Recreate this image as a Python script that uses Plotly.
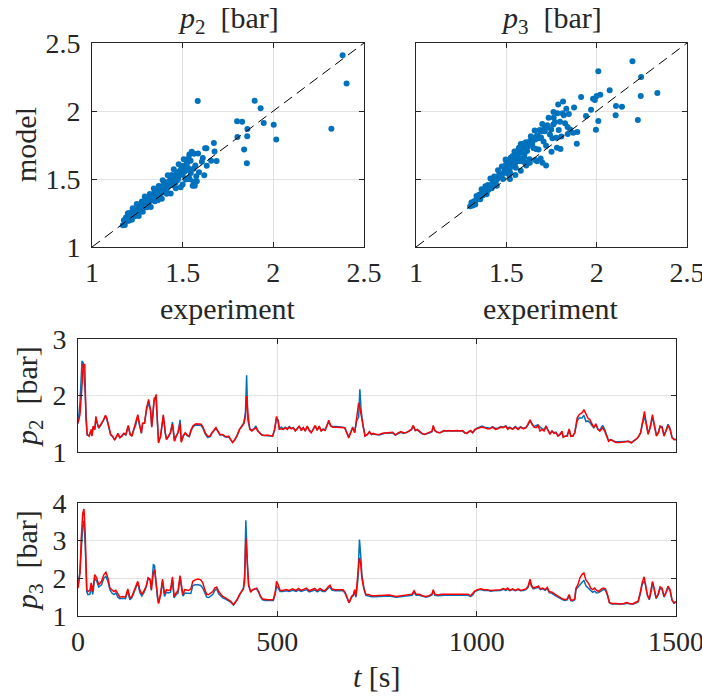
import plotly.graph_objects as go

# ---------------- data ----------------
# scatter: experiment (x) vs model (y), p2
p2_sc_exp = [1.170, 1.176, 1.181, 1.187, 1.192, 1.198, 1.203, 1.209, 1.214, 1.220,
             1.225, 1.231, 1.236, 1.242, 1.247, 1.253, 1.258, 1.264, 1.269, 1.275,
             1.280, 1.286, 1.291, 1.297, 1.302, 1.308, 1.313, 1.319, 1.324, 1.330,
             1.335, 1.341, 1.346, 1.352, 1.357, 1.363, 1.368, 1.374, 1.379, 1.385,
             1.390, 1.396, 1.401, 1.407, 1.412, 1.418, 1.423, 1.429, 1.434, 1.440,
             1.445, 1.451, 1.456, 1.462, 1.467, 1.473, 1.478, 1.484, 1.489, 1.495,
             1.500, 1.506, 1.511, 1.517, 1.522, 1.528, 1.533, 1.539, 1.544, 1.550,
             1.215, 1.245, 1.262, 1.283, 1.300, 1.318, 1.335, 1.355, 1.372, 1.390,
             1.405, 1.420, 1.438, 1.455, 1.470, 1.485, 1.500, 1.515, 1.295, 1.345,
             1.395, 1.445, 1.490, 1.360, 1.410, 1.460,
             1.225, 1.235, 1.250, 1.265, 1.270, 1.285, 1.290, 1.310, 1.315, 1.325,
             1.340, 1.345, 1.360, 1.365, 1.380, 1.385, 1.400, 1.410, 1.415, 1.430,
             1.435, 1.450, 1.460, 1.475, 1.480, 1.495, 1.505, 1.510, 1.525, 1.530,
             1.555, 1.560, 1.575, 1.590, 1.570, 1.520, 1.500, 1.545, 1.560, 1.535,
             1.537, 1.563, 1.585, 1.611, 1.606, 1.633, 1.619, 1.567, 1.578, 1.624,
             1.631, 1.672, 1.676, 1.687, 1.657, 1.583, 1.800, 1.828, 1.857, 1.802,
             1.856, 1.839, 1.854, 1.897, 1.930, 1.947, 2.002, 2.016, 2.320, 2.382, 2.404]
p2_sc_mod = [1.160, 1.196, 1.161, 1.217, 1.192, 1.248, 1.193, 1.219, 1.254, 1.200,
             1.285, 1.251, 1.226, 1.272, 1.317, 1.253, 1.228, 1.304, 1.279, 1.335,
             1.260, 1.306, 1.371, 1.327, 1.292, 1.358, 1.313, 1.389, 1.294, 1.370,
             1.355, 1.431, 1.336, 1.412, 1.387, 1.343, 1.448, 1.384, 1.429, 1.355,
             1.490, 1.436, 1.401, 1.477, 1.392, 1.528, 1.453, 1.489, 1.394, 1.530,
             1.455, 1.571, 1.506, 1.432, 1.547, 1.493, 1.608, 1.544, 1.439, 1.595,
             1.530, 1.646, 1.581, 1.497, 1.632, 1.568, 1.653, 1.499, 1.634, 1.700,
             1.230, 1.270, 1.290, 1.315, 1.330, 1.350, 1.370, 1.390, 1.410, 1.430,
             1.450, 1.470, 1.490, 1.510, 1.520, 1.560, 1.580, 1.600, 1.345, 1.400,
             1.455, 1.500, 1.570, 1.360, 1.420, 1.470,
             1.240, 1.245, 1.260, 1.270, 1.300, 1.290, 1.320, 1.330, 1.360, 1.345,
             1.360, 1.380, 1.400, 1.385, 1.410, 1.440, 1.420, 1.465, 1.440, 1.460,
             1.500, 1.480, 1.520, 1.510, 1.550, 1.540, 1.580, 1.555, 1.620, 1.580,
             1.450, 1.480, 1.520, 1.550, 1.600, 1.500, 1.460, 1.545, 1.575, 1.510,
             1.680, 1.685, 1.687, 1.655, 1.626, 1.598, 1.527, 1.451, 1.483, 1.727,
             1.727, 1.764, 1.702, 1.633, 1.635, 2.074, 1.924, 1.921, 1.867, 1.808,
             1.815, 1.717, 1.616, 2.076, 2.020, 1.912, 1.899, 1.791, 1.870, 2.410, 2.203]

# scatter: experiment (x) vs model (y), p3
p3_sc_exp = [1.300, 1.307, 1.314, 1.321, 1.328, 1.335, 1.342, 1.349, 1.356, 1.363,
             1.370, 1.377, 1.384, 1.391, 1.398, 1.405, 1.412, 1.419, 1.426, 1.433,
             1.440, 1.447, 1.454, 1.461, 1.468, 1.475, 1.482, 1.489, 1.496, 1.503,
             1.510, 1.517, 1.524, 1.531, 1.538, 1.545, 1.552, 1.559, 1.566, 1.573,
             1.580, 1.587, 1.594, 1.601, 1.608, 1.615, 1.622, 1.629, 1.636, 1.643,
             1.650, 1.657, 1.664, 1.671, 1.678, 1.685, 1.692, 1.699, 1.706, 1.713,
             1.720, 1.727, 1.734, 1.741, 1.748, 1.755, 1.762, 1.769, 1.776, 1.783,
             1.790, 1.797, 1.804, 1.811, 1.818, 1.825, 1.832, 1.839, 1.846, 1.853,
             1.470, 1.490, 1.500, 1.510, 1.520, 1.530, 1.540, 1.550, 1.560, 1.570,
             1.580, 1.590, 1.600, 1.620, 1.640, 1.660, 1.680, 1.520, 1.540, 1.560,
             1.580, 1.600, 1.450, 1.430, 1.410, 1.390, 1.370, 1.350, 1.330, 1.550,
             1.570, 1.500,
             1.350, 1.360, 1.380, 1.400, 1.420, 1.440, 1.460, 1.480, 1.495, 1.505,
             1.515, 1.525, 1.535, 1.545, 1.555, 1.565, 1.575, 1.585, 1.595, 1.610,
             1.630, 1.650, 1.670, 1.690, 1.710, 1.730, 1.760, 1.520, 1.550, 1.600,
             1.670, 1.700, 1.720, 1.660, 1.630, 1.690, 1.750, 1.780, 1.800, 1.840,
             1.870, 1.580, 1.550, 1.520, 1.610,
             2.198, 2.009, 2.246, 2.336, 2.244, 2.072, 2.107, 2.140, 2.105, 2.228,
             2.009, 1.996, 2.020, 2.000, 1.980, 1.990, 1.969, 1.941, 1.914, 1.875,
             1.890, 1.893, 1.814, 1.787, 1.761]
p3_sc_mod = [1.300, 1.328, 1.306, 1.337, 1.312, 1.375, 1.353, 1.385, 1.351, 1.424,
             1.402, 1.388, 1.447, 1.388, 1.455, 1.442, 1.503, 1.432, 1.486, 1.518,
             1.474, 1.450, 1.565, 1.525, 1.516, 1.592, 1.500, 1.588, 1.643, 1.545,
             1.603, 1.531, 1.657, 1.651, 1.607, 1.703, 1.583, 1.655, 1.703, 1.632,
             1.758, 1.630, 1.714, 1.624, 1.770, 1.705, 1.761, 1.646, 1.815, 1.761,
             1.728, 1.857, 1.720, 1.814, 1.716, 1.861, 1.805, 1.904, 1.776, 1.852,
             1.744, 1.895, 1.951, 1.828, 1.864, 1.800, 1.951, 1.917, 1.803, 1.984,
             1.860, 1.921, 1.812, 1.983, 1.969, 1.910, 2.016, 1.882, 1.978, 1.864,
             1.530, 1.560, 1.580, 1.600, 1.620, 1.630, 1.640, 1.660, 1.680, 1.690,
             1.700, 1.720, 1.730, 1.740, 1.770, 1.790, 1.800, 1.580, 1.600, 1.630,
             1.650, 1.680, 1.500, 1.470, 1.450, 1.410, 1.380, 1.360, 1.340, 1.700,
             1.730, 1.630,
             1.370, 1.390, 1.395, 1.420, 1.460, 1.480, 1.530, 1.540, 1.600, 1.620,
             1.600, 1.640, 1.670, 1.660, 1.690, 1.710, 1.700, 1.730, 1.760, 1.750,
             1.780, 1.800, 1.820, 1.850, 1.870, 1.880, 1.900, 1.550, 1.620, 1.660,
             1.630, 1.620, 1.600, 1.640, 1.620, 1.650, 1.700, 1.730, 1.720, 1.830,
             1.840, 1.560, 1.530, 1.500, 1.600,
             2.365, 2.292, 2.250, 2.132, 2.110, 2.152, 2.037, 2.032, 1.968, 1.934,
             1.926, 1.863, 2.120, 2.110, 2.090, 2.080, 2.010, 1.963, 2.103, 2.025,
             1.760, 1.846, 2.069, 2.047, 1.993]

diag = [1.0, 2.5]

# time series p2
t2 = [0, 5, 10, 13, 17, 20, 23, 28, 33, 35,
      38, 42, 45, 48, 52, 58, 64, 69, 72, 77,
      82, 87, 92, 97, 100, 105, 110, 115, 120, 126,
      131, 135, 141, 145, 150, 154, 159, 162, 167, 172,
      177, 182, 185, 191, 196, 199, 202, 207, 214, 219,
      222, 227, 232, 237, 242, 246, 251, 256, 259, 264,
      269, 274, 279, 284, 289, 296, 303, 309, 314, 319,
      325, 331, 336, 341, 346, 351, 356, 363, 368, 373,
      378, 383, 388, 393, 398, 405, 411, 416, 420, 423,
      426, 431, 436, 441, 446, 451, 456, 461, 468, 475,
      482, 488, 493, 498, 502, 505, 510, 515, 520, 525,
      530, 535, 540, 545, 550, 555, 560, 565, 570, 575,
      580, 585, 590, 595, 600, 605, 610, 615, 620, 625,
      629, 634, 639, 647, 655, 664, 669, 674, 679, 684,
      689, 694, 699, 704, 707, 710, 715, 720, 726, 731,
      736, 741, 747, 756, 764, 772, 781, 789, 796, 803,
      810, 816, 823, 829, 836, 841, 846, 851, 856, 863,
      869, 876, 883, 888, 891, 895, 901, 908, 913, 918,
      925, 931, 938, 945, 951, 958, 965, 970, 975, 980,
      985, 990, 995, 1000, 1007, 1013, 1020, 1027, 1033, 1040,
      1047, 1053, 1060, 1067, 1073, 1078, 1083, 1090, 1097, 1104,
      1110, 1117, 1124, 1129, 1134, 1139, 1144, 1149, 1154, 1159,
      1164, 1169, 1174, 1179, 1184, 1189, 1194, 1199, 1204, 1209,
      1214, 1217, 1222, 1227, 1232, 1236, 1241, 1246, 1249, 1252,
      1257, 1264, 1269, 1274, 1279, 1284, 1289, 1294, 1299, 1304,
      1309, 1316, 1321, 1326, 1331, 1336, 1343, 1349, 1358, 1366,
      1374, 1381, 1388, 1393, 1399, 1404, 1411, 1416, 1421, 1425,
      1430, 1435, 1441, 1446, 1451, 1456, 1460, 1465, 1470, 1475,
      1480, 1485, 1490, 1495, 1500]
p2_mod = [1.51, 1.66, 2.17, 2.55, 2.55, 1.57, 1.31, 1.28, 1.40, 1.28,
          1.46, 1.40, 1.63, 1.51, 1.43, 1.49, 1.57, 1.65, 1.60, 1.46,
          1.31, 1.28, 1.21, 1.28, 1.33, 1.25, 1.28, 1.33, 1.31, 1.47,
          1.31, 1.28, 1.43, 1.49, 1.66, 1.49, 1.34, 1.51, 1.51, 1.78,
          1.93, 1.75, 1.44, 1.90, 2.02, 1.57, 1.16, 1.28, 1.66, 1.34,
          1.22, 1.28, 1.34, 1.49, 1.19, 1.28, 1.34, 1.51, 1.17, 1.28,
          1.34, 1.30, 1.28, 1.40, 1.47, 1.50, 1.50, 1.49, 1.43, 1.34,
          1.28, 1.28, 1.34, 1.38, 1.43, 1.37, 1.31, 1.31, 1.28, 1.27,
          1.28, 1.22, 1.17, 1.22, 1.28, 1.40, 1.46, 1.50, 1.63, 1.99,
          1.69, 1.40, 1.37, 1.40, 1.43, 1.37, 1.34, 1.30, 1.29, 1.30,
          1.29, 1.28, 1.40, 1.63, 1.54, 1.40, 1.41, 1.40, 1.43, 1.40,
          1.44, 1.41, 1.43, 1.37, 1.41, 1.46, 1.38, 1.43, 1.37, 1.46,
          1.38, 1.34, 1.40, 1.47, 1.38, 1.46, 1.37, 1.40, 1.38, 1.47,
          1.56, 1.46, 1.44, 1.44, 1.44, 1.44, 1.43, 1.34, 1.25, 1.34,
          1.43, 1.34, 1.57, 1.87, 1.78, 1.66, 1.43, 1.28, 1.31, 1.36,
          1.31, 1.33, 1.31, 1.31, 1.33, 1.34, 1.34, 1.35, 1.30, 1.34,
          1.36, 1.34, 1.34, 1.37, 1.40, 1.47, 1.38, 1.40, 1.37, 1.33,
          1.31, 1.33, 1.35, 1.37, 1.47, 1.38, 1.35, 1.34, 1.36, 1.38,
          1.37, 1.38, 1.37, 1.38, 1.38, 1.37, 1.38, 1.34, 1.33, 1.36,
          1.38, 1.34, 1.40, 1.41, 1.43, 1.44, 1.43, 1.41, 1.41, 1.44,
          1.40, 1.41, 1.44, 1.43, 1.46, 1.40, 1.43, 1.40, 1.44, 1.40,
          1.44, 1.41, 1.43, 1.49, 1.57, 1.49, 1.44, 1.43, 1.47, 1.37,
          1.40, 1.37, 1.46, 1.38, 1.31, 1.37, 1.33, 1.34, 1.28, 1.31,
          1.37, 1.26, 1.28, 1.28, 1.41, 1.28, 1.28, 1.34, 1.46, 1.60,
          1.66, 1.69, 1.75, 1.66, 1.60, 1.57, 1.49, 1.43, 1.50, 1.40,
          1.37, 1.43, 1.37, 1.28, 1.19, 1.22, 1.19, 1.17, 1.17, 1.17,
          1.18, 1.19, 1.16, 1.19, 1.22, 1.25, 1.34, 1.53, 1.72, 1.51,
          1.31, 1.43, 1.66, 1.46, 1.28, 1.34, 1.46, 1.43, 1.28, 1.37,
          1.47, 1.40, 1.25, 1.22, 1.22]
p2_exp = [1.50, 1.87, 2.61, 2.58, 2.17, 1.57, 1.30, 1.29, 1.38, 1.29,
          1.44, 1.39, 1.60, 1.52, 1.42, 1.48, 1.56, 1.63, 1.59, 1.43,
          1.30, 1.27, 1.22, 1.27, 1.32, 1.26, 1.29, 1.32, 1.30, 1.45,
          1.30, 1.29, 1.41, 1.48, 1.63, 1.48, 1.33, 1.50, 1.52, 1.75,
          1.87, 1.73, 1.45, 1.96, 1.93, 1.55, 1.18, 1.27, 1.63, 1.33,
          1.23, 1.27, 1.35, 1.53, 1.20, 1.27, 1.35, 1.57, 1.19, 1.29,
          1.33, 1.29, 1.27, 1.38, 1.45, 1.48, 1.48, 1.47, 1.41, 1.32,
          1.26, 1.27, 1.33, 1.37, 1.42, 1.36, 1.30, 1.30, 1.27, 1.26,
          1.27, 1.22, 1.17, 1.21, 1.27, 1.39, 1.45, 1.52, 1.70, 2.36,
          1.57, 1.41, 1.39, 1.41, 1.46, 1.38, 1.34, 1.30, 1.29, 1.29,
          1.28, 1.28, 1.38, 1.60, 1.56, 1.42, 1.44, 1.41, 1.44, 1.41,
          1.45, 1.42, 1.43, 1.38, 1.42, 1.45, 1.39, 1.43, 1.38, 1.45,
          1.39, 1.35, 1.40, 1.46, 1.39, 1.45, 1.38, 1.41, 1.39, 1.46,
          1.54, 1.46, 1.45, 1.45, 1.45, 1.44, 1.43, 1.35, 1.27, 1.35,
          1.44, 1.35, 1.55, 1.62, 2.11, 1.75, 1.46, 1.29, 1.31, 1.35,
          1.31, 1.32, 1.31, 1.30, 1.32, 1.34, 1.33, 1.34, 1.30, 1.33,
          1.35, 1.33, 1.34, 1.36, 1.39, 1.45, 1.38, 1.39, 1.36, 1.32,
          1.31, 1.32, 1.34, 1.36, 1.45, 1.38, 1.35, 1.34, 1.36, 1.37,
          1.37, 1.37, 1.37, 1.38, 1.37, 1.37, 1.37, 1.34, 1.33, 1.35,
          1.37, 1.34, 1.39, 1.42, 1.44, 1.46, 1.44, 1.43, 1.42, 1.45,
          1.42, 1.42, 1.45, 1.44, 1.46, 1.42, 1.44, 1.41, 1.45, 1.41,
          1.45, 1.42, 1.44, 1.48, 1.55, 1.50, 1.45, 1.47, 1.48, 1.44,
          1.42, 1.39, 1.45, 1.40, 1.33, 1.37, 1.34, 1.35, 1.29, 1.31,
          1.36, 1.27, 1.28, 1.29, 1.39, 1.29, 1.28, 1.34, 1.44, 1.55,
          1.60, 1.60, 1.65, 1.54, 1.55, 1.52, 1.47, 1.43, 1.48, 1.41,
          1.39, 1.47, 1.40, 1.30, 1.20, 1.22, 1.20, 1.18, 1.18, 1.18,
          1.18, 1.19, 1.17, 1.19, 1.22, 1.25, 1.33, 1.50, 1.62, 1.53,
          1.33, 1.42, 1.62, 1.47, 1.30, 1.35, 1.45, 1.45, 1.30, 1.38,
          1.49, 1.42, 1.27, 1.22, 1.22]

# time series p3
t3 = [0, 5, 8, 12, 15, 18, 22, 25, 30, 33,
      37, 42, 47, 52, 59, 65, 70, 75, 80, 85,
      90, 95, 100, 105, 112, 119, 125, 130, 135, 140,
      145, 150, 155, 160, 166, 171, 176, 181, 184, 189,
      192, 196, 199, 202, 207, 212, 217, 222, 227, 232,
      237, 241, 246, 251, 256, 259, 263, 268, 273, 278,
      283, 288, 294, 301, 308, 313, 318, 323, 328, 333,
      338, 343, 348, 353, 358, 363, 370, 376, 383, 390,
      395, 400, 405, 410, 415, 418, 421, 425, 428, 433,
      438, 443, 448, 453, 458, 463, 470, 477, 483, 490,
      495, 498, 502, 507, 513, 522, 530, 538, 547, 553,
      560, 566, 573, 580, 587, 594, 600, 607, 614, 620,
      627, 632, 637, 645, 655, 665, 670, 675, 680, 686,
      691, 694, 697, 702, 706, 709, 712, 717, 722, 729,
      736, 744, 756, 764, 781, 798, 814, 831, 838, 843,
      848, 856, 864, 873, 881, 888, 891, 895, 903, 911,
      920, 928, 936, 945, 953, 961, 970, 978, 985, 990,
      995, 1002, 1010, 1018, 1027, 1035, 1043, 1052, 1060, 1067,
      1073, 1078, 1083, 1090, 1097, 1104, 1110, 1117, 1124, 1129,
      1134, 1137, 1142, 1149, 1155, 1160, 1165, 1172, 1177, 1182,
      1189, 1196, 1202, 1209, 1216, 1222, 1227, 1232, 1236, 1241,
      1246, 1249, 1254, 1259, 1264, 1269, 1274, 1281, 1286, 1291,
      1296, 1301, 1306, 1313, 1318, 1323, 1328, 1333, 1339, 1349,
      1359, 1369, 1376, 1383, 1391, 1398, 1405, 1410, 1415, 1420,
      1423, 1428, 1433, 1438, 1441, 1445, 1450, 1455, 1460, 1465,
      1470, 1475, 1480, 1485, 1490, 1495, 1500]
p3_mod = [1.74, 2.14, 3.03, 3.73, 3.84, 3.20, 1.70, 1.65, 1.68, 1.88,
          1.65, 2.10, 2.01, 1.83, 1.92, 2.10, 2.16, 2.01, 1.74, 1.70,
          1.65, 1.68, 1.57, 1.50, 1.52, 1.50, 1.72, 1.48, 1.52, 1.65,
          1.77, 1.92, 1.70, 1.57, 1.68, 1.79, 2.01, 1.96, 1.70, 2.14,
          2.23, 1.88, 1.52, 1.33, 1.57, 1.98, 1.59, 1.70, 1.68, 1.70,
          2.04, 1.52, 1.61, 1.68, 2.07, 1.83, 1.57, 1.70, 1.68, 1.68,
          1.72, 1.92, 1.96, 1.98, 1.96, 1.88, 1.70, 1.57, 1.57, 1.61,
          1.65, 1.74, 1.77, 1.65, 1.57, 1.52, 1.48, 1.43, 1.39, 1.30,
          1.36, 1.45, 1.57, 1.65, 1.72, 1.92, 3.07, 2.32, 1.83, 1.63,
          1.70, 1.72, 1.74, 1.65, 1.52, 1.45, 1.43, 1.43, 1.43, 1.43,
          1.65, 1.92, 1.83, 1.68, 1.68, 1.70, 1.68, 1.72, 1.68, 1.73,
          1.68, 1.70, 1.74, 1.67, 1.70, 1.73, 1.67, 1.73, 1.68, 1.68,
          1.77, 1.82, 1.72, 1.70, 1.70, 1.70, 1.63, 1.48, 1.35, 1.52,
          1.57, 1.70, 1.52, 2.10, 2.54, 2.41, 2.01, 1.72, 1.57, 1.57,
          1.54, 1.54, 1.54, 1.55, 1.56, 1.52, 1.55, 1.57, 1.58, 1.67,
          1.58, 1.58, 1.54, 1.52, 1.54, 1.59, 1.70, 1.58, 1.56, 1.58,
          1.58, 1.58, 1.58, 1.58, 1.58, 1.58, 1.57, 1.58, 1.54, 1.59,
          1.66, 1.70, 1.72, 1.70, 1.70, 1.68, 1.69, 1.70, 1.70, 1.73,
          1.70, 1.74, 1.68, 1.72, 1.68, 1.72, 1.68, 1.70, 1.72, 1.79,
          1.98, 1.83, 1.74, 1.77, 1.79, 1.72, 1.74, 1.70, 1.76, 1.65,
          1.63, 1.58, 1.54, 1.50, 1.45, 1.43, 1.45, 1.57, 1.43, 1.42,
          1.45, 1.74, 1.83, 2.01, 2.10, 2.14, 1.96, 1.86, 1.74, 1.70,
          1.74, 1.68, 1.65, 1.72, 1.74, 1.72, 1.57, 1.36, 1.33, 1.33,
          1.32, 1.33, 1.36, 1.33, 1.32, 1.36, 1.39, 1.61, 1.88, 2.04,
          1.88, 1.57, 1.45, 1.70, 1.92, 1.74, 1.48, 1.57, 1.77, 1.74,
          1.52, 1.63, 1.79, 1.70, 1.43, 1.35, 1.39]
p3_exp = [1.79, 2.19, 2.72, 3.38, 3.53, 2.90, 1.65, 1.57, 1.58, 1.77,
          1.57, 2.01, 1.92, 1.77, 1.83, 2.01, 2.05, 1.92, 1.70, 1.61,
          1.57, 1.61, 1.50, 1.46, 1.47, 1.46, 1.66, 1.43, 1.48, 1.61,
          1.70, 1.88, 1.63, 1.53, 1.63, 1.77, 2.01, 1.98, 1.68, 2.36,
          2.34, 1.83, 1.50, 1.35, 1.55, 1.92, 1.52, 1.63, 1.61, 1.63,
          1.96, 1.48, 1.57, 1.61, 2.04, 1.80, 1.53, 1.61, 1.61, 1.62,
          1.60, 1.81, 1.83, 1.83, 1.81, 1.74, 1.61, 1.50, 1.49, 1.52,
          1.57, 1.68, 1.72, 1.59, 1.52, 1.48, 1.45, 1.41, 1.37, 1.29,
          1.35, 1.44, 1.55, 1.64, 1.75, 2.10, 3.54, 2.41, 1.80, 1.66,
          1.69, 1.71, 1.72, 1.63, 1.50, 1.43, 1.41, 1.41, 1.41, 1.41,
          1.60, 1.80, 1.74, 1.65, 1.65, 1.67, 1.65, 1.68, 1.65, 1.69,
          1.65, 1.67, 1.70, 1.64, 1.67, 1.69, 1.64, 1.69, 1.65, 1.65,
          1.73, 1.77, 1.69, 1.67, 1.67, 1.67, 1.60, 1.46, 1.35, 1.49,
          1.55, 1.66, 1.50, 1.96, 3.03, 2.63, 2.10, 1.76, 1.55, 1.53,
          1.51, 1.51, 1.51, 1.52, 1.53, 1.50, 1.52, 1.54, 1.55, 1.63,
          1.55, 1.55, 1.52, 1.50, 1.52, 1.56, 1.66, 1.55, 1.54, 1.55,
          1.55, 1.56, 1.55, 1.56, 1.55, 1.56, 1.55, 1.55, 1.52, 1.56,
          1.64, 1.68, 1.70, 1.68, 1.68, 1.66, 1.67, 1.68, 1.68, 1.71,
          1.68, 1.71, 1.67, 1.70, 1.67, 1.70, 1.67, 1.68, 1.70, 1.76,
          1.93, 1.80, 1.72, 1.74, 1.76, 1.70, 1.72, 1.68, 1.73, 1.62,
          1.60, 1.55, 1.51, 1.47, 1.43, 1.41, 1.43, 1.54, 1.41, 1.40,
          1.43, 1.70, 1.76, 1.83, 1.89, 1.95, 1.80, 1.72, 1.66, 1.63,
          1.66, 1.61, 1.62, 1.66, 1.70, 1.69, 1.55, 1.35, 1.32, 1.32,
          1.31, 1.32, 1.34, 1.32, 1.31, 1.34, 1.37, 1.57, 1.83, 1.92,
          1.85, 1.55, 1.43, 1.66, 1.88, 1.72, 1.46, 1.55, 1.74, 1.71,
          1.50, 1.61, 1.76, 1.68, 1.42, 1.34, 1.37]

scatter_ticks = [1, 1.5, 2, 2.5]
scatter_ticktext = ["1", "1.5", "2", "2.5"]
time_ticks = [0, 500, 1000, 1500]
p2_ticks = [1, 2, 3]
p3_ticks = [1, 2, 3, 4]

# ---------------- styling ----------------
W, H = 702, 697
BLUE = "#0072BD"
RED = "#FF0000"
FONT = "Liberation Serif, DejaVu Serif, Times New Roman, serif"
TXT = "#262626"
TICK_SIZE = 28
LABEL_SIZE = 30


def fx(p):
    return p / W


def fy(p):
    return 1 - p / H


fig = go.Figure()

fig.add_trace(go.Scatter(x=p2_sc_exp, y=p2_sc_mod, mode="markers",
                         marker=dict(color=BLUE, size=6, line=dict(width=0)),
                         xaxis="x", yaxis="y"))
fig.add_trace(go.Scatter(x=diag, y=diag, mode="lines",
                         line=dict(color="black", width=1, dash="10px,6px"),
                         xaxis="x", yaxis="y"))
fig.add_trace(go.Scatter(x=p3_sc_exp, y=p3_sc_mod, mode="markers",
                         marker=dict(color=BLUE, size=6, line=dict(width=0)),
                         xaxis="x2", yaxis="y2"))
fig.add_trace(go.Scatter(x=diag, y=diag, mode="lines",
                         line=dict(color="black", width=1, dash="10px,6px"),
                         xaxis="x2", yaxis="y2"))
fig.add_trace(go.Scatter(x=t2, y=p2_exp, mode="lines", line=dict(color=BLUE, width=1.5),
                         xaxis="x3", yaxis="y3"))
fig.add_trace(go.Scatter(x=t2, y=p2_mod, mode="lines", line=dict(color=RED, width=1.5),
                         xaxis="x3", yaxis="y3"))
fig.add_trace(go.Scatter(x=t3, y=p3_exp, mode="lines", line=dict(color=BLUE, width=1.5),
                         xaxis="x4", yaxis="y4"))
fig.add_trace(go.Scatter(x=t3, y=p3_mod, mode="lines", line=dict(color=RED, width=1.5),
                         xaxis="x4", yaxis="y4"))

ax = dict(showline=True, linecolor=TXT, linewidth=1, mirror="ticks",
          ticks="inside", ticklen=5, tickcolor=TXT, tickwidth=1,
          showgrid=True, gridcolor="#E2E2E2", gridwidth=1, zeroline=False,
          tickfont=dict(family=FONT, size=TICK_SIZE, color=TXT),
          fixedrange=True, automargin=False, ticklabeloverflow="allow")

sx = dict(ax, range=[1, 2.5], tickvals=scatter_ticks, ticktext=scatter_ticktext)
tx = dict(ax, range=[0, 1500], tickvals=time_ticks, ticklabelstandoff=0)

fig.update_layout(
    width=W, height=H,
    margin=dict(l=0, r=0, t=0, b=0, pad=0, autoexpand=False),
    paper_bgcolor="white", plot_bgcolor="white",
    showlegend=False,
    font=dict(family=FONT, color=TXT),
    xaxis=dict(sx, domain=[fx(92), fx(364)], anchor="y", ticklabelstandoff=0),
    yaxis=dict(sx, domain=[fy(247), fy(43)], anchor="x", ticklabelstandoff=5),
    xaxis2=dict(sx, domain=[fx(416), fx(687)], anchor="y2", ticklabelstandoff=0),
    yaxis2=dict(sx, domain=[fy(247), fy(43)], anchor="x2", showticklabels=False),
    xaxis3=dict(tx, domain=[fx(78), fx(676)], anchor="y3", showticklabels=False),
    yaxis3=dict(ax, range=[1, 3], tickvals=p2_ticks, domain=[fy(452), fy(339)], anchor="x3",
                ticklabelstandoff=5),
    xaxis4=dict(tx, domain=[fx(78), fx(676)], anchor="y4"),
    yaxis4=dict(ax, range=[1, 4], tickvals=p3_ticks, domain=[fy(616), fy(503)], anchor="x4",
                ticklabelstandoff=5),
)

lab = dict(family=FONT, size=LABEL_SIZE, color=TXT)
annots = [
    dict(text="<i>p</i><sub>2</sub>&nbsp;&nbsp;[bar]", x=fx(228), y=fy(20)),
    dict(text="<i>p</i><sub>3</sub>&nbsp;&nbsp;[bar]", x=fx(551), y=fy(20)),
    dict(text="experiment", x=fx(228), y=fy(308)),
    dict(text="experiment", x=fx(551), y=fy(308)),
    dict(text="model", x=fx(26), y=fy(145), textangle=-90),
    dict(text="<i>p</i><sub>2</sub>&nbsp;&nbsp;[bar]", x=fx(29), y=fy(396), textangle=-90),
    dict(text="<i>p</i><sub>3</sub>&nbsp;&nbsp;[bar]", x=fx(29), y=fy(560), textangle=-90),
    dict(text="<i>t</i>&nbsp;[s]", x=fx(377), y=fy(676)),
]
for a in annots:
    fig.add_annotation(xref="paper", yref="paper", showarrow=False,
                       xanchor="center", yanchor="middle", font=lab, **a)

fig.write_html("out.html", config={"displayModeBar": False},
               post_script="document.body.style.margin='0';")
